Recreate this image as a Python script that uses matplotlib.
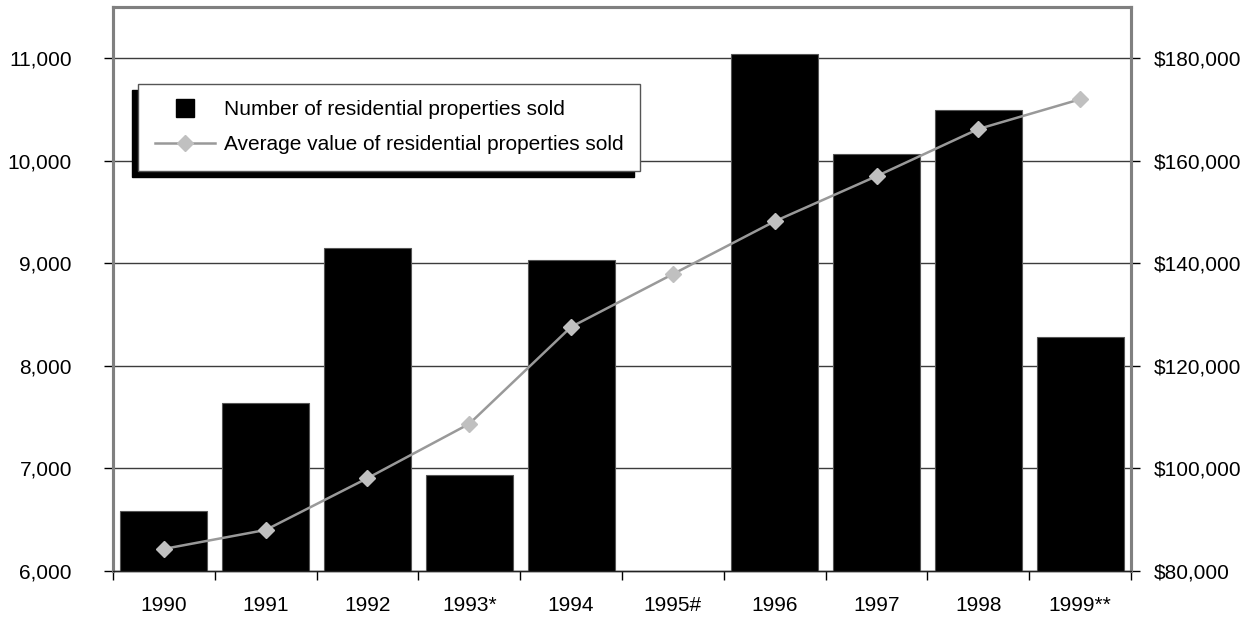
import numpy as np
import matplotlib
matplotlib.use("Agg")
import matplotlib.pyplot as plt
from matplotlib.lines import Line2D
from matplotlib.ticker import FuncFormatter, FixedLocator

plt.rcParams["font.family"] = ["Liberation Sans", "DejaVu Sans"]

# Data
years = ["1990", "1991", "1992", "1993*", "1994", "1995#", "1996", "1997", "1998", "1999**"]
properties_sold = [6585, 7637, 9148, 6936, 9031, np.nan, 11046, 10064, 10493, 8278]
average_value = [84300, 88000, 98100, 108700, 127600, 137900, 148200, 157000, 166200, 172000]

left_ticks = [6000, 7000, 8000, 9000, 10000, 11000]
right_ticks = [80000, 100000, 120000, 140000, 160000, 180000]

FS = 15

fig = plt.figure(figsize=(12.48, 6.18), dpi=100)
ax = fig.add_axes([0.0905, 0.0761, 0.8158, 0.9126])
ax2 = ax.twinx()

x = np.arange(len(years))
bars = ax.bar(x, properties_sold, width=0.855, bottom=0, color="black",
              edgecolor="#555555", linewidth=0.8, zorder=3)
ax.set_ylim(6000, 11500)
ax.set_xlim(-0.5, len(years) - 0.5)

line, = ax2.plot(x, average_value, color="#999999", linewidth=1.8,
                 marker="D", markersize=8, markerfacecolor="#c0c0c0",
                 markeredgecolor="#c0c0c0", zorder=4)
ax2.set_ylim(80000, 190000)

# Gridlines at left-axis ticks
for v in left_ticks[1:]:
    ax.axhline(v, color="#3c3c3c", linewidth=1.0, zorder=1)

ax.set_yticks(left_ticks)
ax.yaxis.set_major_formatter(FuncFormatter(lambda v, p: f"{int(v):,}"))
ax2.set_yticks(right_ticks)
ax2.yaxis.set_major_formatter(FuncFormatter(lambda v, p: f"${int(v):,}"))

# Category labels centred, tick marks on the boundaries
ax.set_xticks(x)
ax.set_xticklabels(years)
ax.xaxis.set_minor_locator(FixedLocator(np.arange(-0.5, len(years), 1.0)))
ax.tick_params(axis="x", which="major", length=0, pad=18, labelsize=FS)
ax.tick_params(axis="x", which="minor", length=6.5, width=1, color="black", direction="out")
ax.tick_params(axis="y", length=6.5, width=1, color="black", pad=23, labelsize=FS)
ax2.tick_params(axis="y", length=6.5, width=1, color="black", pad=10, labelsize=FS)

for a in (ax, ax2):
    for side in ("top", "left", "right"):
        a.spines[side].set_color("#808080")
        a.spines[side].set_linewidth(2.2)
    a.spines["bottom"].set_color("#222222")
    a.spines["bottom"].set_linewidth(1.0)

ax2.set_zorder(ax.get_zorder() + 1)
ax2.patch.set_visible(False)

square_handle = Line2D([], [], linestyle="none", marker="s", markersize=13,
                       markerfacecolor="black", markeredgecolor="black")
leg = ax2.legend([square_handle, line],
                 ["Number of residential properties sold",
                  "Average value of residential properties sold"],
                 loc="upper left", bbox_to_anchor=(0.0245, 0.864),
                 fontsize=FS, frameon=True, fancybox=False,
                 edgecolor="#555555", framealpha=1,
                 handlelength=2.9, handletextpad=0.43, borderpad=0.8,
                 labelspacing=0.75, borderaxespad=0,
                 shadow={"ox": -4.3, "oy": -4.3, "facecolor": "black",
                         "edgecolor": "black", "alpha": 1})
leg.get_frame().set_linewidth(1.0)

fig.savefig("out.png", dpi=100)
